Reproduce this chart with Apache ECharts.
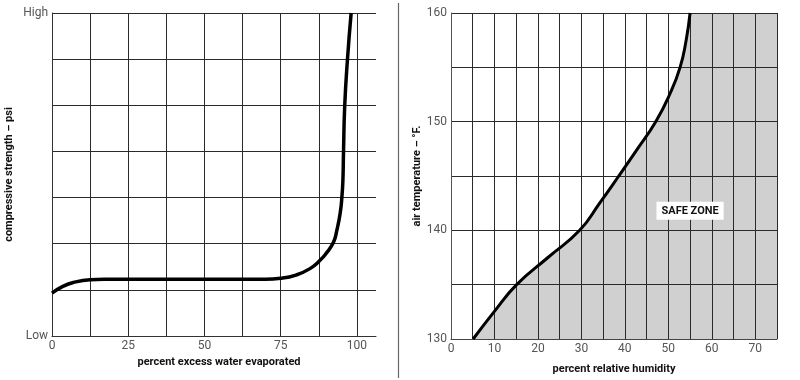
<!DOCTYPE html>
<html>
<head>
<meta charset="utf-8">
<script src="https://cdn.jsdelivr.net/npm/echarts@6/dist/echarts.min.js"></script>
<style>html,body{margin:0;padding:0;background:#fff}#c{width:800px;height:380px}</style>
</head>
<body>
<div id="c"></div>
<script>
// Left chart: compressive strength vs percent excess water evaporated
const leftX = [0, 3.7, 7, 12.5, 17, 30, 50, 70, 75, 80, 84.6, 87.9, 89.9, 92.3, 93.4, 94.5, 95.1, 95.4, 95.6, 96.0, 96.9, 98.1];
const leftY = [0.93, 1.08, 1.16, 1.22, 1.23, 1.23, 1.23, 1.23, 1.25, 1.32, 1.46, 1.64, 1.79, 2.03, 2.29, 2.66, 3.04, 3.38, 4.0, 5.0, 6.0, 7.0];
const leftXTickLabels = [0, 25, 50, 75, 100];
const leftYTickLabels = { 0: 'Low', 7: 'High' };

// Right chart: air temperature vs percent relative humidity
const rightX = [5.1, 9.9, 15.1, 22.3, 29.6, 34.2, 38.6, 42.9, 47.1, 50.3, 52.7, 54.1, 55.0];
const rightY = [130, 132.5, 135, 137.5, 140, 142.5, 145, 147.5, 150, 152.5, 155, 157.5, 160];
const safeZoneX = [55, 75];   // shaded region right of the curve's top end
const safeZoneTop = [160, 160];
const rightXTickLabels = [0, 10, 20, 30, 40, 50, 60, 70];
const rightYTickLabels = [130, 140, 150, 160];
const safeZoneText = 'SAFE ZONE';

const FONT = '"Liberation Sans Narrow", "Roboto", "Liberation Sans", sans-serif';
const leftData = leftX.map((x, i) => [x, leftY[i]]);
const rightData = rightX.map((x, i) => [x, rightY[i]]);
const zoneData = safeZoneX.map((x, i) => [x, safeZoneTop[i]]);

const labelStyle = { color: '#555', fontSize: 12, fontFamily: FONT, margin: 4 };
const nameStyle = { color: '#111', fontSize: 11, fontWeight: 'bold', fontFamily: FONT };
const gridLine = { show: true, lineStyle: { color: '#2a2a2a', width: 1 } };
const FILL = '#d0d0d0';

const chart = echarts.init(document.getElementById('c'), null, { renderer: 'canvas' });
chart.setOption({
  animation: false,
  backgroundColor: '#fff',
  grid: [
    { left: 52, top: 13, width: 324, height: 323 },
    { left: 451, top: 13, width: 326, height: 326 }
  ],
  xAxis: [
    {
      gridIndex: 0, type: 'value', min: 0, max: 106.25, interval: 12.5,
      axisLine: { show: true, lineStyle: { color: '#333', width: 1 } },
      axisTick: { show: false },
      splitLine: Object.assign({ showMaxLine: false }, gridLine),
      axisLabel: Object.assign({ formatter: v => leftXTickLabels.includes(v) ? String(v) : '' }, labelStyle),
      name: 'percent excess water evaporated', nameLocation: 'middle', nameGap: 21,
      nameTextStyle: Object.assign({ padding: [0, 0, 0, 10] }, nameStyle)
    },
    {
      gridIndex: 1, type: 'value', min: 0, max: 75, interval: 5,
      axisLine: { show: true, lineStyle: { color: '#444', width: 1 } },
      axisTick: { show: false },
      splitLine: gridLine,
      axisLabel: Object.assign({ formatter: v => rightXTickLabels.includes(v) ? String(v) : '' }, labelStyle),
      name: 'percent relative humidity', nameLocation: 'middle', nameGap: 25,
      nameTextStyle: nameStyle
    }
  ],
  yAxis: [
    {
      gridIndex: 0, type: 'value', min: 0, max: 7, interval: 1,
      axisLine: { show: true, lineStyle: { color: '#333', width: 1 } },
      axisTick: { show: false },
      splitLine: gridLine,
      axisLabel: Object.assign({ formatter: v => leftYTickLabels[v] || '' }, labelStyle),
      name: 'compressive strength – psi', nameLocation: 'middle', nameGap: 37,
      nameTextStyle: nameStyle
    },
    {
      gridIndex: 1, type: 'value', min: 130, max: 160, interval: 5,
      axisLine: { show: true, lineStyle: { color: '#555', width: 1 } },
      axisTick: { show: false },
      splitLine: gridLine,
      axisLabel: Object.assign({ formatter: v => rightYTickLabels.includes(v) ? String(v) : '' }, labelStyle),
      name: 'air temperature – °F.', nameLocation: 'middle', nameGap: 28,
      nameTextStyle: nameStyle
    }
  ],
  series: [
    {
      type: 'line', xAxisIndex: 0, yAxisIndex: 0, data: leftData,
      smooth: 0.5, showSymbol: false, symbol: 'none',
      lineStyle: { color: '#000', width: 3.5 }, z: 3
    },
    {
      type: 'line', xAxisIndex: 1, yAxisIndex: 1, data: rightData,
      smooth: 0.5, showSymbol: false, symbol: 'none',
      lineStyle: { width: 0, color: 'transparent' },
      areaStyle: { color: FILL, opacity: 1, origin: 'start' }, z: -1
    },
    {
      type: 'line', xAxisIndex: 1, yAxisIndex: 1, data: zoneData,
      showSymbol: false, symbol: 'none',
      lineStyle: { width: 0, color: 'transparent' },
      areaStyle: { color: FILL, opacity: 1, origin: 'start' }, z: -1
    },
    {
      type: 'line', xAxisIndex: 1, yAxisIndex: 1, data: rightData,
      smooth: 0.5, showSymbol: false, symbol: 'none',
      lineStyle: { color: '#000', width: 3 }, z: 3,
      markPoint: {
        symbol: 'circle', symbolSize: 1, itemStyle: { color: 'transparent' },
        data: [{
          coord: [55, 141.8],
          label: {
            show: true, position: 'inside', formatter: safeZoneText,
            backgroundColor: '#fff', padding: [4, 5, 3, 5],
            color: '#111', fontSize: 11, fontWeight: 'bold', fontFamily: FONT
          }
        }]
      }
    }
  ],
  graphic: [
    { type: 'line', shape: { x1: 398.5, y1: 3, x2: 398.5, y2: 378 }, style: { stroke: '#666', lineWidth: 1.2 } }
  ]
});
</script>
</body>
</html>
